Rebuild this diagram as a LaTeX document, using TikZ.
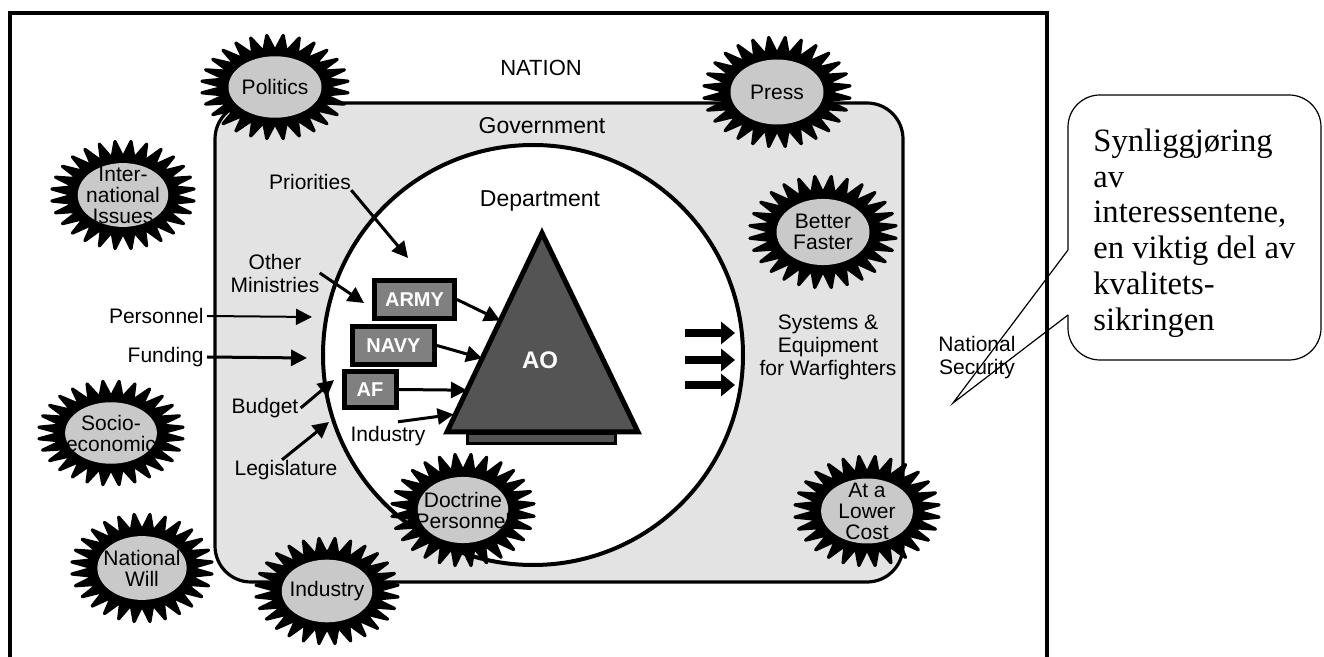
\documentclass[tikz,border=0pt]{standalone}
\usepackage{fontspec}
\setmainfont{Liberation Sans}
\newfontfamily\calloutfont{Liberation Serif}
\usetikzlibrary{calc, arrows.meta}

\definecolor{govgray}{gray}{0.89}
\definecolor{burstgray}{gray}{0.79}
\definecolor{boxgray}{gray}{0.5}
\definecolor{aogray}{gray}{0.33}

% spiky burst: name, centre, text, half width, half height
\newcommand{\burst}[5]{%
    \filldraw[shift={(#2)}, line width=1.6pt, line join=round]
        plot[samples=57, domain=0:56, variable=\q]
        ({(0.68+0.3*mod(round(\q),2))*#4*cos(\q*45/7)},
         {(0.68+0.3*mod(round(\q),2))*#5*sin(\q*45/7)}) -- cycle;
    \fill[burstgray] (#2) ellipse [x radius=0.62*#4, y radius=0.58*#5];
    \node[burstlbl] (#1) at (#2) {#3};
}

\begin{document}
\begin{tikzpicture}[x=0.5pt, y=-0.5pt,
    lbl/.style={font=\fontsize{10.5}{11.5}\selectfont, inner sep=0pt, align=center},
    biglbl/.style={font=\fontsize{11.5}{12}\selectfont, inner sep=0pt},
    burstlbl/.style={font=\fontsize{10.5}{10.5}\selectfont, inner sep=0pt, align=center},
    unit/.style={draw=black, line width=2.5pt, fill=boxgray, text=white,
        font=\fontsize{10}{12}\selectfont\bfseries, inner sep=0pt},
    feed/.style={-{Triangle[length=8pt, width=8pt]}, line width=1.5pt},
    outflow/.style={-{Triangle[length=7pt, width=11pt]}, line width=4pt}]
    \useasboundingbox (0,0) rectangle (1324,657);

    \pgfmathsetmacro{\cx}{533}
    \pgfmathsetmacro{\cy}{355}

    \draw[line width=2pt] (10,657) -- (10,13) -- (1047,13) -- (1047,657);
    \draw[fill=govgray, line width=1.6pt, rounded corners=18pt] (215,103) rectangle (903,582);
    \draw[fill=white, line width=2pt] (\cx,\cy) circle [radius=105pt];

    \node[lbl, font=\fontsize{11}{12}\selectfont] (nation) at (541,68) {NATION};
    \node[biglbl] (govt) at (542,126) {Government};
    \node[biglbl] (dept) at (540,201) {Department};

    % the acquisition organisation
    \coordinate (apex) at (542,233);
    \coordinate (tl) at (447,432);
    \coordinate (tr) at (638,432);
    \draw[fill=aogray, line width=1.5pt] (467,434) rectangle (615,444);
    \draw[fill=aogray, line width=2.5pt, line join=miter] (tl) -- (apex) -- (tr) -- cycle;
    \node[text=white, font=\fontsize{12}{14}\selectfont\bfseries, inner sep=0pt] (ao) at (540,360) {AO};
    \foreach \nm/\t in {ea/0.56, eb/0.37, ec/0.21, ed/0.09} {
        \coordinate (\nm) at ($(tl)!\t!(apex)$);
    }

    \node[unit, minimum width=40pt, minimum height=19pt] (army) at (414.5,299.5) {ARMY};
    \node[unit, minimum width=41pt, minimum height=19pt] (navy) at (393.5,345.5) {NAVY};
    \node[unit, minimum width=26pt, minimum height=18pt] (af) at (370,389.5) {AF};

    \node[lbl] (prio) at (310,182) {Priorities};
    \node[lbl] (otherm) at (275,273) {Other\\Ministries};
    \node[lbl, anchor=east] (pers) at (204,316) {Personnel};
    \node[lbl, anchor=east] (fund) at (204,357) {Funding};
    \node[lbl] (budget) at (265,408) {Budget};
    \node[lbl] (legis) at (286,470) {Legislature};
    \node[lbl] (indlbl) at (388,436) {Industry};
    \node[lbl] (sysq) at (828,347) {Systems \&\\Equipment\\for Warfighters};
    \node[lbl] (natsec) at (977,358) {National\\Security};

    \coordinate (priotip) at (408,258);
    \coordinate (omtip) at (364,303);
    \coordinate (perstip) at (312,317);
    \coordinate (fundtip) at (307,358);
    \coordinate (budtip) at (334,380);
    \coordinate (legtip) at (329,422);

    \draw[feed] (prio.south east) -- (priotip);
    \draw[feed] (otherm.east) -- (omtip);
    \draw[feed, line width=1pt] ([xshift=1.5pt]pers.east) -- (perstip);
    \draw[feed] ([xshift=1.5pt]fund.east) -- (fundtip);
    \draw[feed] ([xshift=1pt]budget.east) -- (budtip);
    \draw[feed] ([xshift=-2pt]legis.north) -- (legtip);
    \draw[feed] (army.east) -- (ea);
    \draw[feed] (navy.east) -- (eb);
    \draw[feed] (af.east) -- (ec);
    \draw[feed, shorten >=1pt] ([xshift=5pt, yshift=2pt]indlbl.north) -- (ed);

    \foreach \y in {333,360,385} {
        \coordinate (out\y) at (685,\y);
        \coordinate (outtip\y) at (735,\y);
        \draw[outflow] (out\y) -- (outtip\y);
    }

    \burst{politics}{275,87}{Politics}{75}{53}
    \burst{intl}{123,195}{Inter-\\national\\Issues}{73}{55}
    \burst{press}{777,92}{Press}{75}{56}
    \burst{better}{823,232}{Better\\Faster}{75}{57}
    \burst{socio}{111,433}{Socio-\\economic}{74}{53}
    \burst{natwill}{142,568}{National\\Will}{72}{55}
    \burst{industry}{327,591}{Industry}{73}{54}
    \burst{doctrine}{463,510}{Doctrine\\Personnel}{73}{57}
    \burst{lowercost}{867,511}{At a\\Lower\\Cost}{74}{56}

    % remark bubble
    \coordinate (remarktip) at (953,403);
    \draw[line width=0.6pt, rounded corners=16pt]
        (1068,250) -- (1068,95) -- (1321,95) -- (1321,360) -- (1068,360) -- (1068,315);
    \draw[line width=0.6pt] (1068,250) -- (remarktip) -- (1068,315);
    \node[anchor=west, align=left, inner sep=0pt,
        font=\calloutfont\fontsize{16.3}{17.9}\selectfont] (remark) at (1093,233)
        {Synliggjøring\\av\\interessentene,\\en viktig del av\\kvalitets-\\sikringen};
\end{tikzpicture}
\end{document}
